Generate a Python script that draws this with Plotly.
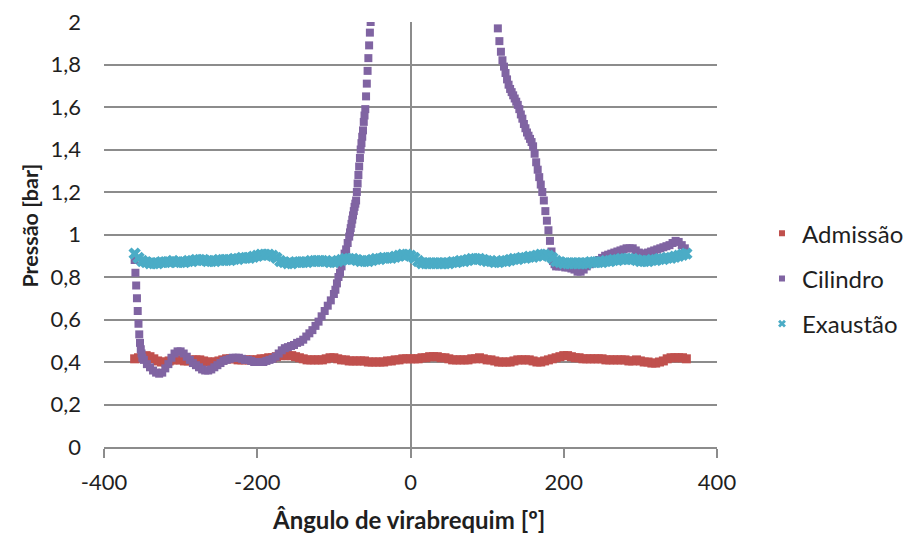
import plotly.graph_objects as go

# Crank angle grid for the intake / exhaust series (every 5 degrees)
angle_5deg = list(range(-360, 361, 5))

admissao = [
    0.415, 0.42, 0.425, 0.43, 0.425, 0.415, 0.405, 0.40, 0.40, 0.405, 0.41, 0.41,     # -360..-305
    0.41, 0.405, 0.405, 0.41, 0.41, 0.41, 0.405, 0.40, 0.40, 0.40, 0.405, 0.41,       # -300..-245
    0.415, 0.415, 0.415, 0.41, 0.41, 0.41, 0.41, 0.41, 0.41, 0.415, 0.415, 0.42,      # -240..-185
    0.42, 0.425, 0.43, 0.43, 0.43, 0.43, 0.425, 0.42, 0.415, 0.41, 0.41, 0.41,        # -180..-125
    0.41, 0.41, 0.415, 0.42, 0.42, 0.415, 0.41, 0.41, 0.405, 0.405, 0.405, 0.405,     # -120..-65
    0.405, 0.40, 0.40, 0.40, 0.40, 0.40, 0.405, 0.405, 0.41, 0.41, 0.415, 0.415,      # -60..-5
    0.415, 0.415, 0.415, 0.42, 0.42, 0.425, 0.425, 0.425, 0.42, 0.42, 0.415, 0.41,    # 0..55
    0.41, 0.41, 0.41, 0.41, 0.415, 0.415, 0.42, 0.415, 0.41, 0.41, 0.405, 0.40,       # 60..115
    0.40, 0.40, 0.40, 0.405, 0.41, 0.41, 0.41, 0.41, 0.405, 0.40, 0.40, 0.405,        # 120..175
    0.41, 0.415, 0.42, 0.425, 0.43, 0.43, 0.425, 0.42, 0.42, 0.415, 0.415, 0.415,     # 180..235
    0.415, 0.415, 0.415, 0.41, 0.41, 0.41, 0.41, 0.41, 0.41, 0.405, 0.405, 0.41,      # 240..295
    0.405, 0.40, 0.40, 0.395, 0.395, 0.40, 0.405, 0.415, 0.42, 0.42, 0.42, 0.42,      # 300..355
    0.415,                                                                            # 360
]

exaustao = [
    0.91, 0.89, 0.875, 0.87, 0.865, 0.865, 0.865, 0.87, 0.87, 0.87, 0.875, 0.87,      # -360..-305
    0.87, 0.87, 0.875, 0.875, 0.88, 0.88, 0.88, 0.875, 0.875, 0.875, 0.88, 0.88,      # -300..-245
    0.88, 0.88, 0.885, 0.885, 0.89, 0.89, 0.89, 0.895, 0.90, 0.905, 0.905, 0.905,     # -240..-185
    0.90, 0.89, 0.875, 0.87, 0.865, 0.865, 0.87, 0.87, 0.87, 0.87, 0.875, 0.875,      # -180..-125
    0.875, 0.875, 0.875, 0.87, 0.87, 0.875, 0.88, 0.885, 0.885, 0.885, 0.88, 0.875,   # -120..-65
    0.875, 0.875, 0.88, 0.885, 0.885, 0.89, 0.89, 0.89, 0.895, 0.90, 0.905, 0.905,    # -60..-5
    0.90, 0.89, 0.875, 0.865, 0.865, 0.865, 0.865, 0.865, 0.865, 0.865, 0.865, 0.87,  # 0..55
    0.87, 0.875, 0.875, 0.88, 0.885, 0.885, 0.885, 0.88, 0.875, 0.875, 0.87, 0.87,    # 60..115
    0.875, 0.875, 0.88, 0.885, 0.885, 0.89, 0.89, 0.895, 0.895, 0.90, 0.905, 0.905,   # 120..175
    0.90, 0.89, 0.875, 0.87, 0.865, 0.865, 0.865, 0.865, 0.865, 0.865, 0.865, 0.87,   # 180..235
    0.87, 0.87, 0.87, 0.875, 0.875, 0.88, 0.88, 0.885, 0.885, 0.885, 0.885, 0.88,     # 240..295
    0.875, 0.875, 0.875, 0.88, 0.88, 0.885, 0.885, 0.89, 0.89, 0.895, 0.90, 0.905,    # 300..355
    0.91,                                                                             # 360
]

# Cylinder pressure: denser sampling where the curve is steep
cil_x_a = list(range(-360, -349, 1))
cil_y_a = [0.88, 0.82, 0.76, 0.70, 0.64, 0.58, 0.53, 0.49, 0.46, 0.44, 0.42]

cil_x_b = list(range(-348, -199, 4))
cil_y_b = [0.41, 0.39, 0.375, 0.36, 0.35, 0.345, 0.35, 0.37, 0.39, 0.42,
           0.44, 0.45, 0.45, 0.44, 0.425, 0.41, 0.395, 0.385, 0.375, 0.365,
           0.36, 0.36, 0.365, 0.375, 0.385, 0.395, 0.405, 0.41, 0.415, 0.42,
           0.42, 0.42, 0.415, 0.41, 0.41, 0.405, 0.40, 0.40]

cil_x_c = list(range(-196, -103, 4))
cil_y_c = [0.40, 0.40, 0.405, 0.41, 0.415, 0.425, 0.44, 0.455, 0.465, 0.47,
           0.475, 0.48, 0.49, 0.495, 0.505, 0.52, 0.535, 0.55, 0.57, 0.59,
           0.615, 0.64, 0.665, 0.69]

cil_x_d = list(range(-100, -79, 2))
cil_y_d = [0.72, 0.74, 0.77, 0.80, 0.82, 0.85, 0.88, 0.91, 0.93, 0.96, 0.99]

cil_x_e = list(range(-79, -49, 1))
cil_y_e = [1.01, 1.03, 1.05, 1.07, 1.09, 1.11, 1.13, 1.145, 1.16, 1.20,
           1.24, 1.28, 1.32, 1.36, 1.40, 1.43, 1.46, 1.49, 1.53, 1.56,
           1.59, 1.65, 1.71, 1.77, 1.83, 1.89, 1.95, 2.00, 2.06, 2.12]

cil_x_f = list(range(110, 189, 2))
cil_y_f = [2.09, 2.03, 1.97, 1.91, 1.86, 1.82, 1.79, 1.76, 1.73, 1.705,
           1.685, 1.67, 1.655, 1.64, 1.625, 1.61, 1.59, 1.565, 1.545, 1.52,
           1.50, 1.48, 1.465, 1.45, 1.435, 1.415, 1.38, 1.34, 1.305, 1.27,
           1.235, 1.20, 1.16, 1.11, 1.065, 1.02, 0.97, 0.92, 0.875, 0.86]

cil_x_g = list(range(190, 361, 4))
cil_y_g = [0.85, 0.85, 0.85, 0.845, 0.845, 0.84, 0.835, 0.825, 0.825, 0.835,
           0.85, 0.86, 0.865, 0.87, 0.88, 0.89, 0.90, 0.905, 0.91, 0.915,
           0.92, 0.925, 0.93, 0.935, 0.935, 0.935, 0.925, 0.915, 0.91, 0.91,
           0.915, 0.92, 0.925, 0.93, 0.935, 0.94, 0.945, 0.95, 0.96, 0.97,
           0.965, 0.95, 0.935]

cilindro_x = cil_x_a + cil_x_b + cil_x_c + cil_x_d + cil_x_e + cil_x_f + cil_x_g
cilindro_y = cil_y_a + cil_y_b + cil_y_c + cil_y_d + cil_y_e + cil_y_f + cil_y_g

series_names = ["Admissão", "Cilindro", "Exaustão"]
colors = ["#C0504D", "#8064A2", "#4BACC6"]
symbols = ["square", "square", "x"]
data_sizes = [9, 8, 11]
legend_sizes = [6, 6, 7]
x_ticks = [-400, -200, 0, 200, 400]
x_tick_text = ["-400", "-200", "0", "200", "400"]
y_ticks = [0, 0.2, 0.4, 0.6, 0.8, 1.0, 1.2, 1.4, 1.6, 1.8, 2.0]

FONT = "Lato, 'Open Sans', sans-serif"
GRID = "#8C8C8C"
TXT = "#1F1F1F"

series_x = [angle_5deg, cilindro_x, angle_5deg]
series_y = [admissao, cilindro_y, exaustao]

fig = go.Figure()
for i in range(3):
    fig.add_trace(go.Scatter(x=series_x[i], y=series_y[i], mode="markers",
                             name=series_names[i], legendgroup=f"g{i}", showlegend=False,
                             marker=dict(symbol=symbols[i], size=data_sizes[i],
                                         color=colors[i], line=dict(width=0))))
# legend entries with small markers, as in the reference
for i in range(3):
    fig.add_trace(go.Scatter(x=[None], y=[None], mode="markers",
                             name=series_names[i], legendgroup=f"g{i}", showlegend=True,
                             marker=dict(symbol=symbols[i], size=legend_sizes[i],
                                         color=colors[i], line=dict(width=0))))

fig.update_layout(
    width=906, height=533,
    margin=dict(l=104, r=189, t=22, b=86, autoexpand=False),
    paper_bgcolor="white", plot_bgcolor="white",
    separators=",.",
    font=dict(family=FONT, size=22, color=TXT),
    showlegend=True,
    legend=dict(x=1.0734, y=0.555, xanchor="left", yanchor="top",
                font=dict(family=FONT, size=24, color=TXT),
                traceorder="grouped", tracegroupgap=11,
                itemsizing="trace",
                bgcolor="rgba(0,0,0,0)"),
    xaxis=dict(range=[-400, 400], tickvals=x_ticks, ticktext=x_tick_text, showgrid=False,
               showline=True, linecolor=GRID, linewidth=1.5,
               ticks="outside", ticklen=9, tickcolor=GRID, tickwidth=1.5,
               zeroline=True, zerolinecolor=GRID, zerolinewidth=1.5,
               ticklabelstandoff=6,
               tickfont=dict(family=FONT, size=22, color=TXT)),
    yaxis=dict(range=[0, 2], tickvals=y_ticks, showgrid=True, gridcolor=GRID,
               gridwidth=1.5, showline=False, zeroline=False, ticks="",
               ticklabelstandoff=22,
               tickfont=dict(family=FONT, size=22, color=TXT)),
    annotations=[
        dict(text="<b>Pressão [bar]</b>", xref="paper", yref="paper",
             x=-0.1207, y=0.521, textangle=-90, showarrow=False,
             xanchor="center", yanchor="middle",
             font=dict(family=FONT, size=21.5, color=TXT)),
        dict(text="<b>Ângulo de virabrequim [º]</b>", xref="paper", yref="paper",
             x=0.496, y=-0.171, showarrow=False,
             xanchor="center", yanchor="middle",
             font=dict(family=FONT, size=24, color=TXT)),
    ],
)

fig.write_html("out.html")
